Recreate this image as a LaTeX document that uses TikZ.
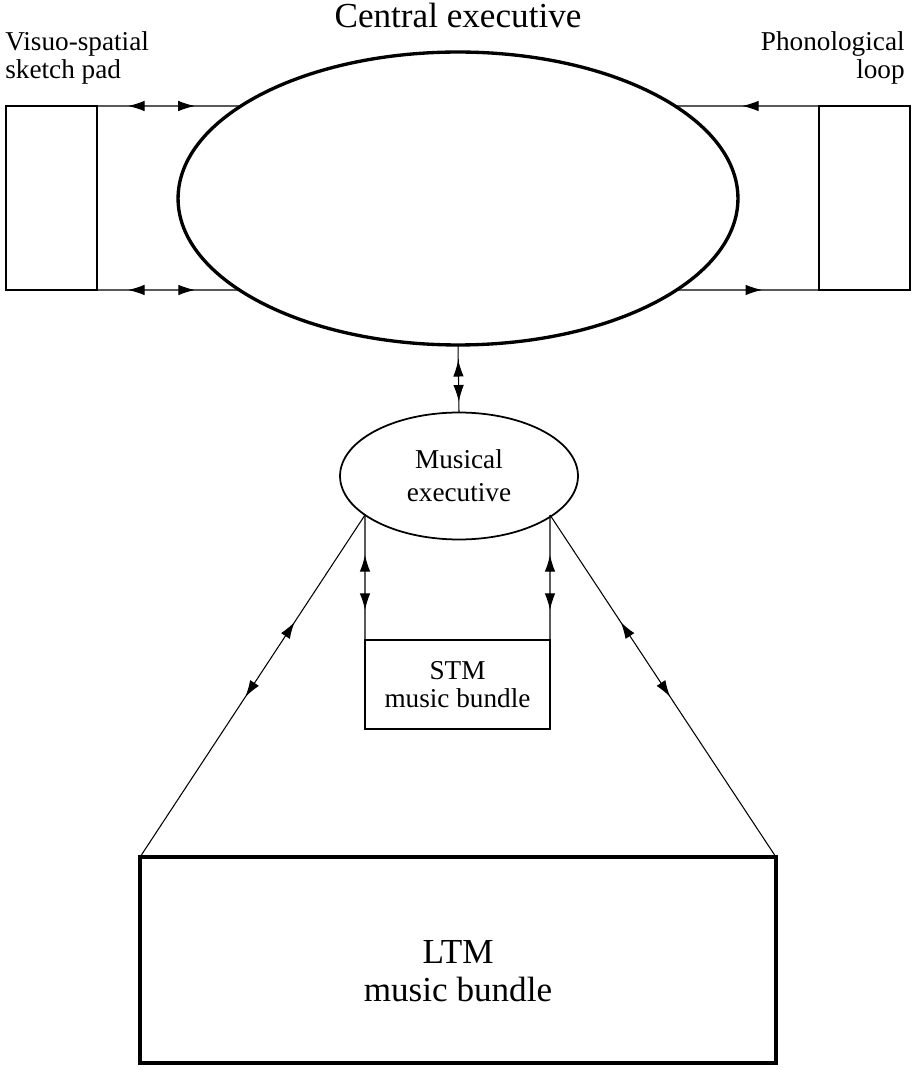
\documentclass[tikz,border=0pt]{standalone}
\usepackage{fontspec}
\setmainfont{Liberation Serif}
\usetikzlibrary{arrows.meta,decorations.markings,shapes.geometric}
\begin{document}
\begin{tikzpicture}[x=0.02cm,y=-0.02cm,
  conn/.style={line width=0.6pt},
  fwd/.style={postaction={decorate,decoration={markings,mark=at position #1 with {\arrow{Latex[length=9.5pt,width=6pt]}}}}},
  bwd/.style={postaction={decorate,decoration={markings,mark=at position #1 with {\arrowreversed{Latex[length=9.5pt,width=6pt]}}}}},
  smalltext/.style={font=\fontsize{15.5}{16.4}\selectfont, inner sep=0pt},
  thinbox/.style={draw, line width=1.1pt, inner sep=0pt, outer sep=0pt},
  ]
\useasboundingbox (0,0) rectangle (916,1070);

% texts
\node[font=\fontsize{20}{24}\selectfont, inner sep=0pt, anchor=base] (title) at (458,28) {Central executive};
\node[smalltext, align=left, anchor=base west] (vslabel) at (5,79) {Visuo-spatial\\sketch pad};
\node[smalltext, align=right, anchor=base east] (pllabel) at (905,79) {Phonological\\loop};

% shapes
\node[draw, ellipse, line width=1.9pt, inner sep=0pt, outer sep=0pt, minimum width=11.2cm, minimum height=5.86cm] (ce) at (458,198.5) {};
\node[thinbox, minimum width=1.82cm, minimum height=3.68cm] (vs) at (51.5,198) {};
\node[thinbox, minimum width=1.82cm, minimum height=3.68cm] (pl) at (864.5,198) {};
\node[draw, ellipse, line width=1pt, inner sep=0pt, outer sep=0pt, minimum width=4.76cm, minimum height=2.54cm, align=center, font=\fontsize{15.5}{18.7}\selectfont] (me) at (459,476) {Musical\\executive};
\node[thinbox, minimum width=3.7cm, minimum height=1.78cm, align=center, font=\fontsize{15.5}{15.9}\selectfont] (stm) at (457.5,684.5) {STM\\music bundle};
\node[draw, line width=1.9pt, inner sep=0pt, outer sep=0pt, minimum width=12.72cm, minimum height=4.12cm] (ltm) at (458,960) {};
\node[align=center, inner sep=0pt, font=\fontsize{20}{22}\selectfont] (ltmtext) at (458,971) {LTM\\music bundle};

% border points
\coordinate (ceLT) at (241,106);
\coordinate (ceLB) at (239,290);
\coordinate (ceRT) at (675,106);
\coordinate (ceRB) at (677,290);
\coordinate (meL) at (365,515);
\coordinate (meR) at (550,515);

% connectors
\draw[conn, bwd=0.215, fwd=0.68] (vs.north east) -- (ceLT);
\draw[conn, bwd=0.218, fwd=0.69] (vs.south east) -- (ceLB);
\draw[conn, bwd=0.465] (ceRT) -- (pl.north west);
\draw[conn, fwd=0.6] (ceRB) -- (pl.south west);
\draw[conn, bwd=0.22, fwd=0.84] (ce.south) -- (me.north);
\draw[conn, bwd=0.32, fwd=0.76] (meL) -- (stm.north west);
\draw[conn, bwd=0.32, fwd=0.76] (meR) -- (stm.north east);
\draw[conn, bwd=0.313, fwd=0.532] (meL) -- (ltm.north west);
\draw[conn, bwd=0.313, fwd=0.532] (meR) -- (ltm.north east);
\end{tikzpicture}
\end{document}
